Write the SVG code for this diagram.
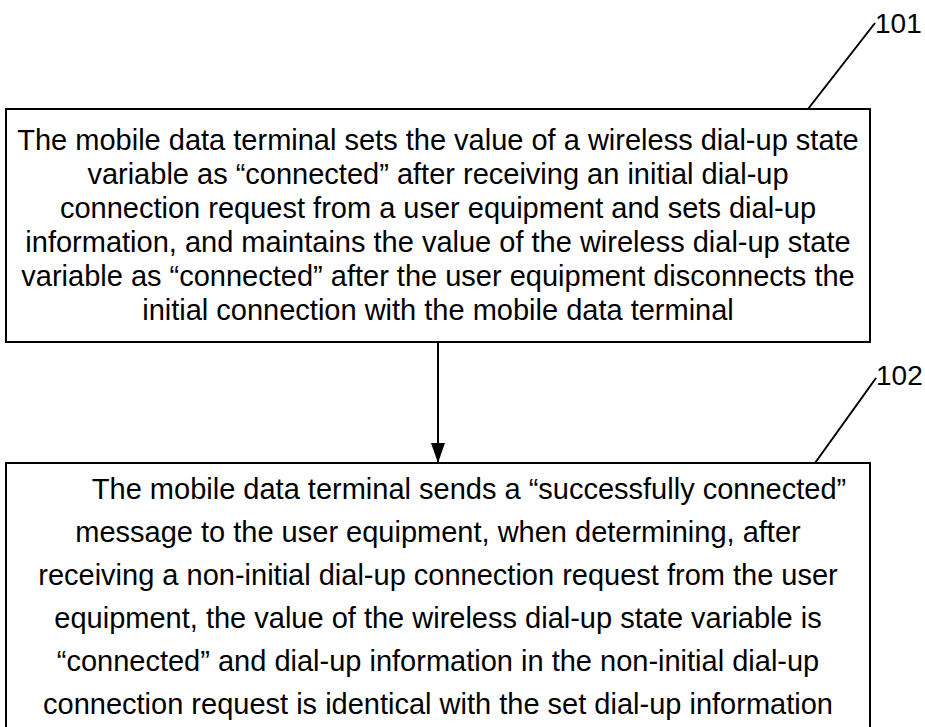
<svg xmlns="http://www.w3.org/2000/svg" width="925" height="727" viewBox="0 0 925 727">
<style>
.box{fill:#fff;stroke:#000;stroke-width:2}
.t{font-family:"Liberation Sans",Arial,sans-serif;font-size:29px;fill:#000;text-anchor:middle}
.lbl{font-family:"Liberation Sans",Arial,sans-serif;font-size:28px;fill:#000}
.ln{stroke:#000;stroke-width:2;fill:none}
</style>
<defs>
<marker id="arr" markerWidth="20" markerHeight="14" refX="20" refY="7" orient="auto" markerUnits="userSpaceOnUse">
<path d="M0,0 L20,7 L0,14 Z" fill="#000"/>
</marker>
</defs>
<rect width="925" height="727" fill="#fff"/>
<g id="node101">
<rect class="box" x="6" y="109" width="864" height="233"/>
<text class="t" x="438" y="150">The mobile data terminal sets the value of a wireless dial-up state</text>
<text class="t" x="438" y="184">variable as “connected” after receiving an initial dial-up</text>
<text class="t" x="438" y="218">connection request from a user equipment and sets dial-up</text>
<text class="t" x="438" y="252">information, and maintains the value of the wireless dial-up state</text>
<text class="t" x="438" y="286">variable as “connected” after the user equipment disconnects the</text>
<text class="t" x="438" y="320">initial connection with the mobile data terminal</text>
</g>
<g id="node102">
<rect class="box" x="6" y="463" width="864" height="280"/>
<text class="t" x="469" y="499">The mobile data terminal sends a “successfully connected”</text>
<text class="t" x="438" y="542">message to the user equipment, when determining, after</text>
<text class="t" x="438" y="585">receiving a non-initial dial-up connection request from the user</text>
<text class="t" x="438" y="628">equipment, the value of the wireless dial-up state variable is</text>
<text class="t" x="438" y="671">“connected” and dial-up information in the non-initial dial-up</text>
<text class="t" x="438" y="714">connection request is identical with the set dial-up information</text>
</g>
<g id="label101">
<line class="ln" x1="808" y1="109" x2="875" y2="23"/>
<text class="lbl" x="875" y="33">101</text>
</g>
<g id="label102">
<line class="ln" x1="815" y1="463" x2="876" y2="378"/>
<text class="lbl" x="876" y="385">102</text>
</g>
<g id="connectors">
<line class="ln" x1="438" y1="342" x2="438" y2="463" marker-end="url(#arr)"/>
</g>
</svg>
